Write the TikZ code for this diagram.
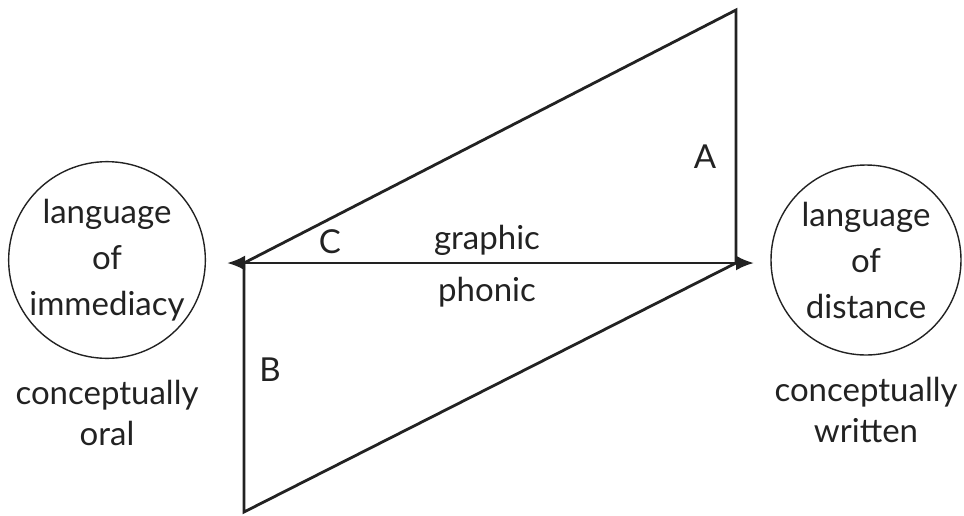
\documentclass[tikz,border=0pt]{standalone}
\usepackage{fontspec}
\setmainfont{Lato}
\usetikzlibrary{arrows.meta, positioning}
\definecolor{inkGray}{HTML}{222222}

\begin{document}
\begin{tikzpicture}[
		x=1pt, y=-1pt,
		every node/.style={font=\fontsize{33}{46}\selectfont, text=inkGray},
		pole/.style={circle, draw=inkGray, line width=1.4pt, minimum size=190pt, inner sep=0pt, align=center},
		caption/.style={align=center, font=\fontsize{33}{41}\selectfont},
		edge/.style={line width=2.8pt, draw=inkGray, line join=miter},
		axis/.style={{Latex[length=18pt, width=15pt]}-{Latex[length=18pt, width=15pt]}, line width=2.8pt, draw=inkGray}
	]
		\useasboundingbox (0,0) rectangle (964,515);

		% poles
		\node[pole] (immediacy) at (107,260) {language\\of\\immediacy};
		\node[pole] (distance) at (866,260) {language\\of\\distance};
		\node[caption, below=18pt of immediacy] (oral) {conceptually\\oral};
		\node[caption, below=18pt of distance] (written) {conceptually\\written};

		% triangles
		\coordinate (mid L) at (244,263);
		\coordinate (mid R) at (736,263);
		\coordinate (top R) at (736,10);
		\coordinate (bot L) at (244,512);
		\coordinate (tip L) at (227,263);
		\coordinate (tip R) at (754,263);
		\draw[edge] (mid L) -- (top R) -- (mid R);
		\draw[edge] (mid R) -- (bot L) -- (mid L);
		\draw[axis] (tip L) -- (tip R);

		% labels
		\node (A) at (705,157) {A};
		\node (B) at (270,370) {B};
		\node (C) at (330,242) {C};
		\node (graphic) at (487,240) {graphic};
		\node (phonic) at (487,292) {phonic};
	\end{tikzpicture}
\end{document}
